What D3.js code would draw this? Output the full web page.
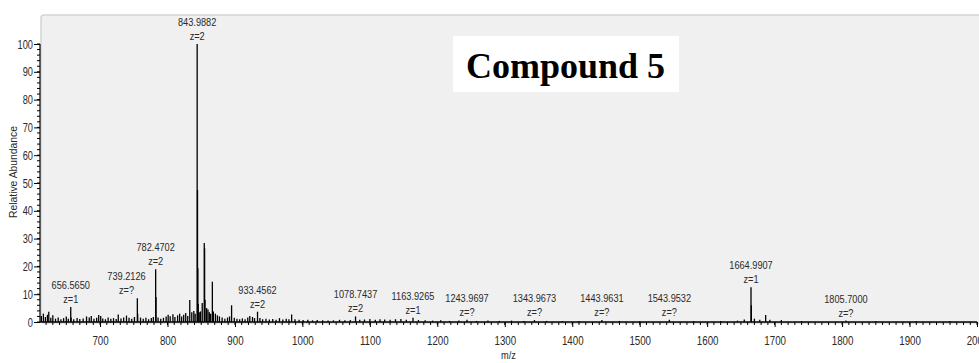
<!DOCTYPE html>
<html>
<head>
<meta charset="utf-8">
<script src="https://cdn.jsdelivr.net/npm/d3@7/dist/d3.min.js"></script>
<style>
  html, body { margin: 0; padding: 0; background: #ffffff; }
  svg { display: block; }
  .lbl { font-family: "Liberation Sans", Arial, sans-serif; fill: #2a2a2a; }
</style>
</head>
<body>
<svg id="chart" width="979" height="363"></svg>
<script>
// Axis ticks
const mzTicks = [700, 800, 900, 1000, 1100, 1200, 1300, 1400, 1500, 1600, 1700, 1800, 1900, 2000];
const abundanceTicks = [0, 10, 20, 30, 40, 50, 60, 70, 80, 90, 100];

// Centroid sticks: m/z and relative abundance (%)
const peakMz = [
  613, 616, 619, 622, 624, 627, 630, 634, 638, 642, 646, 650, 653, 656.57, 657.1, 661, 666, 670, 675,
  680, 684, 687, 691, 695, 698, 701, 704, 708, 712, 716, 720, 724, 727, 731, 735, 739.21, 743, 747, 751,
  755.3, 755.8, 760, 764, 768, 772, 776, 779, 782.47, 782.97, 786, 790, 794, 798, 801, 804, 808, 811, 815,
  818, 821, 824, 827, 830, 833, 836, 839, 841, 843.99, 844.49, 844.99, 845.5, 847, 849, 851.5, 854.5,
  855.0, 855.6, 858, 860, 862, 864, 866.5, 868, 871, 874, 877, 881, 885, 889, 892, 895, 899, 903, 907,
  911, 915, 919, 922, 926, 929, 933.46, 937, 941, 946, 951, 956, 961, 966, 971, 976, 980, 984, 989, 995,
  1001, 1008, 1015, 1022, 1030, 1038, 1046, 1055, 1063, 1071, 1078.74, 1085, 1092, 1100, 1108, 1115,
  1122, 1130, 1138, 1146, 1154, 1163.93, 1172, 1182, 1193, 1205, 1218, 1232, 1243.97, 1258, 1275, 1292,
  1310, 1328, 1343.97, 1362, 1385, 1410, 1443.96, 1470, 1500, 1543.95, 1580, 1620, 1645, 1655, 1664.99,
  1665.5, 1670, 1678, 1686.7, 1693, 1710, 1740, 1805.7, 1850, 1910, 1960
];
const peakInt = [
  2.2, 3.0, 1.8, 2.6, 3.7, 1.5, 2.4, 1.2, 1.6, 1.0, 1.4, 2.0, 1.2, 5.4, 1.6, 1.0, 1.4, 1.1, 1.3,
  2.0, 1.6, 2.2, 1.2, 1.5, 2.5, 2.2, 1.3, 1.0, 1.6, 1.2, 1.4, 1.1, 2.7, 1.3, 1.6, 2.3, 1.5, 1.2, 1.8,
  8.5, 3.0, 1.6, 1.2, 1.5, 1.0, 1.4, 1.8, 19.0, 9.0, 1.6, 1.2, 1.5, 2.0, 2.6, 2.1, 2.8, 1.8, 2.4,
  3.0, 2.0, 2.6, 3.2, 2.2, 7.9, 3.5, 4.0, 3.0, 100, 47.5, 19.3, 6.5, 3.5, 3.8, 6.8, 28.4,
  26.5, 8.0, 5.0, 4.5, 3.5, 3.0, 14.5, 3.8, 3.0, 2.4, 2.0, 1.6, 1.2, 1.6, 2.0, 6.0, 1.5, 1.2, 1.0,
  1.3, 1.0, 1.6, 2.2, 1.8, 1.4, 3.7, 1.4, 1.0, 1.2, 0.9, 1.1, 0.8, 1.4, 0.9, 1.2, 1.0, 2.7, 1.0, 0.8,
  0.7, 0.8, 0.6, 0.7, 0.6, 0.5, 0.6, 0.8, 0.6, 0.7, 2.0, 0.8, 0.9, 1.1, 0.8, 1.0,
  0.9, 0.8, 1.0, 1.1, 0.8, 1.5, 0.7, 0.6, 0.5, 0.6, 0.4, 0.5, 0.8, 0.4, 0.5, 0.4,
  0.5, 0.4, 0.7, 0.4, 0.4, 0.3, 0.7, 0.4, 0.3, 0.8, 0.3, 0.4, 0.5, 0.9, 12.5,
  6.0, 1.2, 0.8, 2.5, 0.8, 0.7, 0.3, 0.5, 0.3, 0.3, 0.3
];

// Annotated peaks
const labelMz = [656.5650, 739.2126, 782.4702, 843.9882, 933.4562, 1078.7437, 1163.9265, 1243.9697,
                 1343.9673, 1443.9631, 1543.9532, 1664.9907, 1805.7000];
const labelCharge = ["z=1", "z=?", "z=2", "z=2", "z=2", "z=2", "z=1", "z=?", "z=?", "z=?", "z=?", "z=1", "z=?"];

const svg = d3.select("#chart");
const W = 979, H = 363;
const plotLeft = 40, plotRight = 977, plotTop = 15, base = 322;
const squeeze = 0.8;   // condensed instrument-software lettering

const x = d3.scaleLinear().domain([611, 2000]).range([plotLeft, plotRight]);
const y = d3.scaleLinear().domain([0, 100]).range([base, 44]);

// Plot panel
svg.append("rect")
  .attr("x", plotLeft + 1).attr("y", plotTop)
  .attr("width", W - plotLeft + 4).attr("height", base - plotTop + 1)
  .attr("rx", 3)
  .attr("fill", "#f0f0f0")
  .attr("stroke", "#d4d4d4").attr("stroke-width", 1.5);

// Title box
svg.append("rect")
  .attr("x", 453).attr("y", 36).attr("width", 226).attr("height", 56)
  .attr("fill", "#ffffff");
svg.append("text")
  .attr("x", 466).attr("y", 78)
  .attr("font-family", "'Liberation Serif', 'Times New Roman', serif")
  .attr("font-weight", "bold").attr("font-size", 36)
  .attr("fill", "#000")
  .text("Compound 5");

// Spectrum sticks
const peaks = peakMz.map((m, i) => ({ mz: m, ab: peakInt[i] }));
svg.append("g")
  .selectAll("line")
  .data(peaks)
  .join("line")
  .attr("x1", d => x(d.mz)).attr("x2", d => x(d.mz))
  .attr("y1", base).attr("y2", d => y(d.ab))
  .attr("stroke", "#000").attr("stroke-width", 1.3);

// Peak annotations, lifted above any stick underneath the label
const halfW = 22;
labelMz.forEach((m, i) => {
  const cx = x(m);
  const under = peaks.filter(p => Math.abs(x(p.mz) - cx) <= halfW);
  const hi = d3.max(under, p => p.ab) || 0;
  const zBase = y(hi) - 4;
  [[m.toFixed(4), zBase - 14], [labelCharge[i], zBase]].forEach(([txt, yy]) => {
    svg.append("text").attr("class", "lbl")
      .attr("transform", `translate(${cx},${yy}) scale(${squeeze},1)`)
      .attr("text-anchor", "middle")
      .attr("font-size", 11.5)
      .text(txt);
  });
});

// X axis
const xMinor = d3.range(620, 2001, 10);
const xAxis = svg.append("g").attr("transform", `translate(0,${base})`);
xAxis.append("line").attr("x1", plotLeft).attr("x2", plotRight).attr("stroke", "#000").attr("stroke-width", 1.5);
xAxis.selectAll(".minor").data(xMinor).join("line")
  .attr("class", "minor")
  .attr("x1", d => x(d)).attr("x2", d => x(d))
  .attr("y1", 0).attr("y2", 3).attr("stroke", "#000");
xAxis.call(d3.axisBottom(x).tickValues(mzTicks).tickFormat(d3.format("d")).tickSize(5).tickSizeOuter(0))
  .call(g => g.select(".domain").remove())
  .call(g => g.selectAll(".tick text").attr("class", "lbl")
    .attr("font-size", 12.5).attr("y", 14).attr("dy", "0.71em")
    .attr("transform", "scale(0.78,1)"));

svg.append("text").attr("class", "lbl")
  .attr("transform", `translate(${(plotLeft + plotRight) / 2},359) scale(${squeeze},1)`)
  .attr("text-anchor", "middle").attr("font-size", 11.5)
  .text("m/z");

// Y axis
const yMinor = d3.range(0, 101, 2);
const yAxis = svg.append("g").attr("transform", `translate(${plotLeft},0)`);
yAxis.append("line").attr("y1", y(0)).attr("y2", y(100)).attr("stroke", "#000").attr("stroke-width", 1.2);
yAxis.selectAll(".minor").data(yMinor).join("line")
  .attr("class", "minor")
  .attr("x1", -3).attr("x2", 0)
  .attr("y1", d => y(d)).attr("y2", d => y(d)).attr("stroke", "#000");
yAxis.call(d3.axisLeft(y).tickValues(abundanceTicks).tickSize(6).tickSizeOuter(0))
  .call(g => g.select(".domain").remove())
  .call(g => g.selectAll(".tick text").attr("class", "lbl")
    .attr("font-size", 12.5).attr("x", 0)
    .attr("transform", "translate(-7,0) scale(0.74,1)"));

svg.append("text").attr("class", "lbl")
  .attr("transform", `translate(17,172) rotate(-90) scale(0.9,1)`)
  .attr("text-anchor", "middle").attr("font-size", 11.5)
  .text("Relative Abundance");
</script>
</body>
</html>
